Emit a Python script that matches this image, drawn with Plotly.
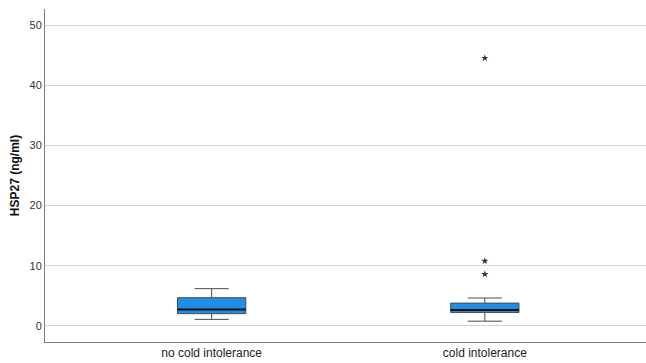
import plotly.graph_objects as go

# Summary statistics for HSP27 (ng/ml) by group
groups = ["no cold intolerance", "cold intolerance"]
lower_whisker = [1.1, 0.8]
q1 = [2.05, 2.25]
median = [2.75, 2.65]
q3 = [4.7, 3.8]
upper_whisker = [6.2, 4.65]

# Extreme values beyond the whiskers
outlier_group = ["cold intolerance", "cold intolerance", "cold intolerance"]
outlier_value = [44.5, 10.8, 8.6]

BOX_WIDTH = 0.25
FILL = "#1E8EE6"
EDGE = "#4a4a4a"

fig = go.Figure()
fig.add_trace(go.Box(
    x=groups,
    q1=q1, median=median, q3=q3,
    lowerfence=lower_whisker, upperfence=upper_whisker,
    width=BOX_WIDTH,
    whiskerwidth=0.5,
    fillcolor=FILL,
    line=dict(color=EDGE, width=1),
    boxpoints=False,
    hoverinfo="skip",
    showlegend=False,
))

fig.add_trace(go.Scatter(
    x=outlier_group, y=outlier_value,
    mode="markers",
    marker=dict(symbol="star", size=5.5, color="#333333", line=dict(width=0)),
    showlegend=False,
    hoverinfo="skip",
))

# Heavier median bar on each box
for i, m in enumerate(median):
    fig.add_shape(type="line", xref="x", yref="y",
                  x0=i - BOX_WIDTH / 2, x1=i + BOX_WIDTH / 2, y0=m, y1=m,
                  line=dict(color="#111111", width=2))

fig.update_layout(
    width=646, height=363,
    margin=dict(l=45, r=0, t=9, b=21),
    paper_bgcolor="white", plot_bgcolor="white",
    font=dict(family="Liberation Sans, Arial, sans-serif", size=11, color="#222222"),
    xaxis=dict(
        type="category", range=[-0.61, 1.59],
        showline=True, linecolor="#7a7a7a", linewidth=1,
        ticks="", showgrid=False,
        tickfont=dict(size=12, color="#222222"),
    ),
    yaxis=dict(
        range=[-2.66, 52.66],
        tickvals=[0, 10, 20, 30, 40, 50],
        showline=True, linecolor="#7a7a7a", linewidth=1,
        showgrid=True, gridcolor="#d4d4d4", gridwidth=1,
        zeroline=False, ticks="",
        tickfont=dict(size=11, color="#333333"),
        title=dict(text="<b>HSP27 (ng/ml)</b>", font=dict(size=12, color="#111111"), standoff=7),
    ),
)

fig.write_html("out.html")
